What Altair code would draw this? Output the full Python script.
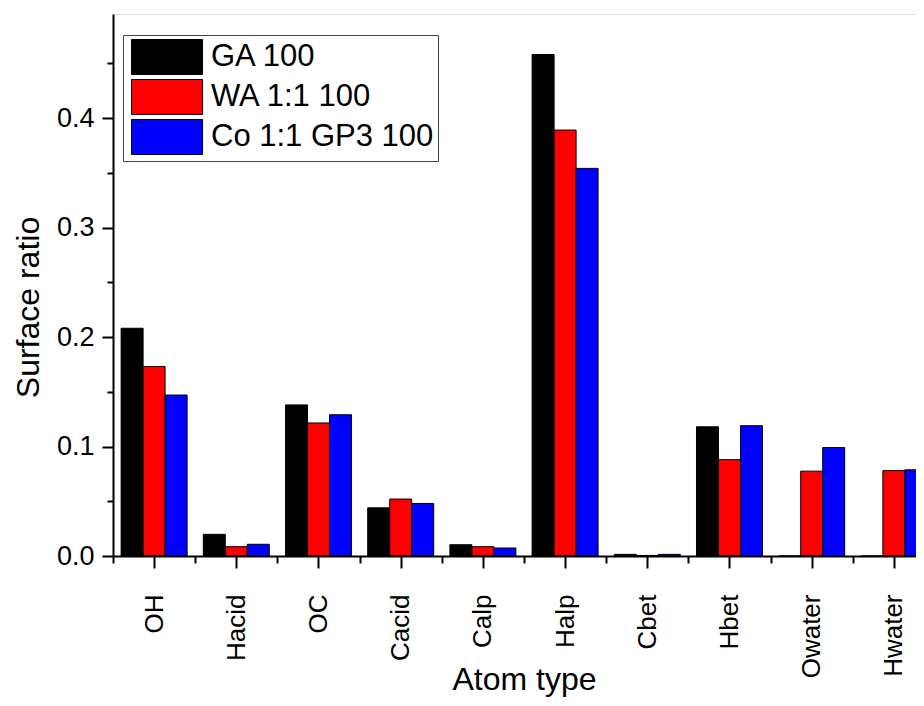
import json
import altair as alt
import pandas as pd

atoms = ["OH", "Hacid", "OC", "Cacid", "Calp", "Halp", "Cbet", "Hbet", "Owater", "Hwater"]
series = ["GA 100", "WA 1:1 100", "Co 1:1 GP3 100"]
ga = [0.208, 0.0198, 0.138, 0.044, 0.0103, 0.458, 0.0015, 0.118, 0.0, 0.0]
wa = [0.173, 0.0085, 0.1215, 0.052, 0.0085, 0.389, 0.0005, 0.088, 0.0775, 0.078]
co = [0.147, 0.0107, 0.129, 0.048, 0.0073, 0.354, 0.0015, 0.119, 0.099, 0.0787]
colors = ["#000000", "#ff0000", "#0000ff"]
y_major = [0.0, 0.1, 0.2, 0.3, 0.4]
y_minor = [0.05, 0.15, 0.25, 0.35, 0.45]

# grouped-bar geometry in category units (one category = 1 unit)
BAR_W = 0.2676                     # each bar's width as a fraction of a category
x_domain = [-0.5, 9.269]           # the last group runs past the picture's edge

rows = []
for si, (s, vals) in enumerate(zip(series, [ga, wa, co])):
    for ai, (a, v) in enumerate(zip(atoms, vals)):
        c = ai + (si - 1) * BAR_W
        rows.append({"atom": a, "series": s, "value": v,
                     "x0": c - BAR_W / 2, "x1": c + BAR_W / 2, "idx": ai})
df = pd.DataFrame(rows)

FONT = "Liberation Sans"
xscale = alt.Scale(domain=x_domain, nice=False, zero=False)
yscale = alt.Scale(domain=[0, 0.495], nice=False, zero=True)
label_expr = json.dumps(atoms) + "[round(datum.value)]"

bars = alt.Chart(df).mark_bar(stroke="black", strokeWidth=1, clip=True).encode(
    x=alt.X("x0:Q", scale=xscale,
            axis=alt.Axis(orient="bottom", title="Atom type", labelAngle=-90,
                          values=list(range(len(atoms))), labelExpr=label_expr,
                          labelFontSize=26, labelFont=FONT, labelColor="black",
                          labelPadding=26, tickSize=12, tickWidth=2, tickColor="black",
                          domainWidth=2, domainColor="black", grid=False, zindex=1,
                          titleFontSize=32, titleFont=FONT, titleFontWeight="normal",
                          titleColor="black", titleX=411, titleY=133,
                          titleBaseline="alphabetic", titleAlign="center")),
    x2="x1:Q",
    y=alt.Y("value:Q", scale=yscale,
            axis=alt.Axis(orient="left", title="Surface ratio", values=y_major,
                          format=".1f", labelFontSize=27, labelFont=FONT,
                          labelColor="black", labelPadding=8, tickSize=11,
                          tickWidth=2, tickColor="black", domainWidth=2,
                          domainColor="black", grid=False, zindex=1,
                          titleFontSize=32, titleFont=FONT, titleFontWeight="normal",
                          titleColor="black", titleX=-75, titleY=293,
                          titleAngle=-90, titleBaseline="alphabetic",
                          titleAlign="center")),
    y2=alt.datum(0),
    color=alt.Color("series:N", sort=series,
                    scale=alt.Scale(domain=series, range=colors),
                    legend=alt.Legend(title=None, orient="none", legendX=10, legendY=21,
                                      strokeColor="#444", fillColor="white",
                                      padding=4, labelFontSize=31, labelFont=FONT,
                                      labelColor="black", labelOffset=48,
                                      labelLimit=500,
                                      labelExpr="datum.label + '\u00a0\u00a0\u00a0'",
                                      symbolType="M-0.77,-1H3.29V1H-0.77Z",
                                      symbolSize=1225, symbolStrokeColor="black",
                                      symbolStrokeWidth=1, symbolOpacity=1,
                                      rowPadding=0)),
)

minor = alt.Chart(df).mark_point(opacity=0, clip=True).encode(
    x=alt.X("idx:Q", scale=xscale,
            axis=alt.Axis(orient="bottom", title=None, labels=False, domain=False,
                          values=[i - 0.5 for i in range(len(atoms))],
                          tickSize=7, tickWidth=2, tickColor="black",
                          grid=False, zindex=1)),
    y=alt.Y("value:Q", scale=yscale,
            axis=alt.Axis(orient="left", title=None, labels=False, domain=False,
                          values=y_minor, tickSize=6, tickWidth=2,
                          tickColor="black", grid=False, zindex=1)),
)

chart = alt.layer(bars, minor).resolve_axis(
    x="independent", y="independent"
).properties(
    width=803, height=542,
    autosize=alt.AutoSizeParams(type="none"),
    padding={"left": 105, "top": 6, "right": 0, "bottom": 142},
).configure_view(stroke=None).configure(background="white")

chart.save("out.html", embed_options={"renderer": "svg", "actions": False})
